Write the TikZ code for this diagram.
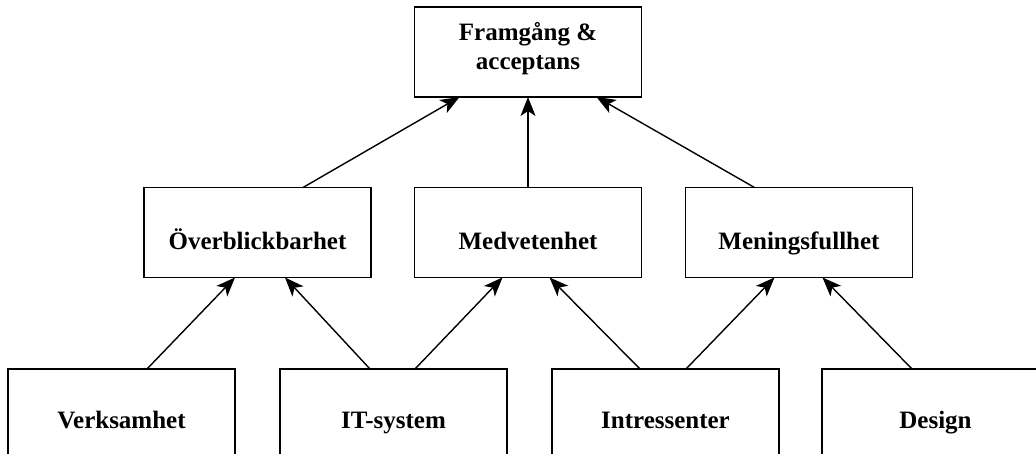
\documentclass[tikz,border=0pt]{standalone}
\usepackage{fontspec}
\setmainfont{Liberation Serif}
\usetikzlibrary{arrows.meta}
\begin{document}
\begin{tikzpicture}[x=1pt,y=-1pt,
  box/.style={draw,line width=1.6pt,minimum width=227pt,inner sep=0pt,outer sep=0pt},
  lbl/.style={anchor=base,inner sep=0pt,font=\fontsize{25}{29}\selectfont\bfseries},
  arr/.style={line width=1.4pt,-{Stealth[length=19pt,width=15pt,inset=5pt]}}]
\useasboundingbox (0,0) rectangle (1036,454);
\clip (0,0) rectangle (1036,454);
% top
\node[box,minimum height=90pt] (top) at (528,52) {};
\node[lbl] (t1) at (528,41) {Framgång \&};
\node[lbl] (t2) at (528,70) {acceptans};
% middle
\node[box,minimum height=90pt] (ob) at (257.5,232.5) {};
\node[lbl] (obt) at (257.5,250) {Överblickbarhet};
\node[box,minimum height=90pt] (me) at (528,232.5) {};
\node[lbl] (met) at (528,250) {Medvetenhet};
\node[box,minimum height=90pt] (mf) at (799,232.5) {};
\node[lbl] (mft) at (799,250) {Meningsfullhet};
% bottom
\node[box,minimum height=110pt] (ve) at (121.5,424) {};
\node[lbl] (vet) at (121.5,428) {Verksamhet};
\node[box,minimum height=110pt] (it) at (393.5,424) {};
\node[lbl] (itt) at (393.5,428) {IT-system};
\node[box,minimum height=110pt] (in) at (665.5,424) {};
\node[lbl] (int) at (665.5,428) {Intressenter};
\node[box,minimum height=110pt] (de) at (935.5,424) {};
\node[lbl] (det) at (935.5,428) {Design};
% arrows bottom -> middle
\draw[arr] ([xshift=139pt]ve.north west) -- ([xshift=91pt]ob.south west);
\draw[arr] ([xshift=90pt]it.north west) -- ([xshift=141pt]ob.south west);
\draw[arr] ([xshift=135pt]it.north west) -- ([xshift=88pt]me.south west);
\draw[arr] ([xshift=88pt]in.north west) -- ([xshift=135pt]me.south west);
\draw[arr] ([xshift=134pt]in.north west) -- ([xshift=89pt]mf.south west);
\draw[arr] ([xshift=90pt]de.north west) -- ([xshift=137pt]mf.south west);
% middle -> top
\draw[arr] ([xshift=159pt]ob.north west) -- ([xshift=45pt]top.south west);
\draw[arr] (me.north) -- (top.south);
\draw[arr] ([xshift=69pt]mf.north west) -- ([xshift=182pt]top.south west);
\end{tikzpicture}
\end{document}
